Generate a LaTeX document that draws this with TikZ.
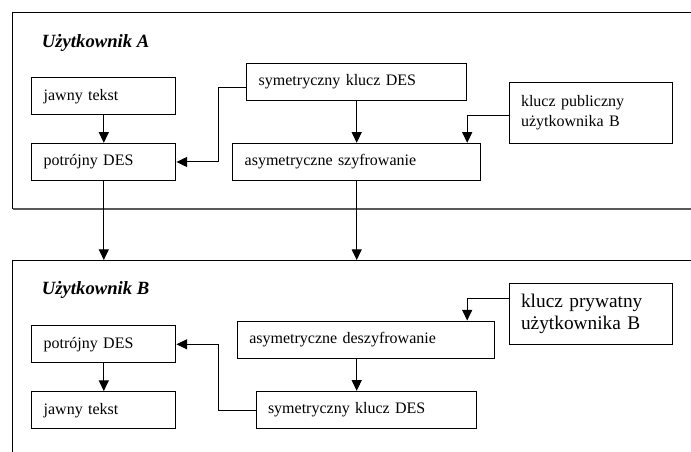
\documentclass[tikz,border=0pt]{standalone}
\usepackage{fontspec}
\setmainfont{Liberation Serif}
\usetikzlibrary{arrows.meta, positioning, calc}

\begin{document}
\begin{tikzpicture}[x=0.75pt, y=-0.75pt,
    blok/.style={draw, line width=0.75pt, inner xsep=9pt, inner ysep=0pt,
      align=left, minimum height=28pt, font=\fontsize{12}{14.5}\selectfont},
    pijl/.style={line width=0.75pt, -{Triangle[length=8pt, width=7.5pt]}},
    rama/.style={line width=0.75pt},
    tytul/.style={anchor=base west, inner sep=0pt,
      font=\fontsize{14}{16}\selectfont\bfseries\itshape}]
  \useasboundingbox (0,0) rectangle (691,452);
  \clip (0,0) rectangle (691,452);

  % Ramki uzytkownikow
  \draw[rama] (720,12.3) -- (12.7,12.3) -- (12.7,209);
  \draw[line width=1.5pt, black!65] (12.7,209) -- (720,209);
  \draw[rama] (720,260) -- (12.7,260) -- (12.7,480);

  \node[tytul] (tytA) at (41.7,47.7) {Użytkownik A};
  \node[tytul] (tytB) at (41.7,294.3) {Użytkownik B};

  % Uzytkownik A
  \node[blok, text width=90.2pt] (jawnyA) at (103.8,96.3) {jawny tekst};
  \node[blok, text width=90.2pt] (potA) at (103.8,162) {potrójny DES};
  \node[blok, text width=147pt] (symA) at (356.7,82) {symetryczny klucz DES};
  \node[blok, text width=168pt] (asymA) at (356.7,162) {asymetryczne szyfrowanie};
  \node[blok, text width=104.5pt, minimum height=45.75pt] (kpubA) at (590.7,112.8)
    {klucz publiczny\\użytkownika B};

  \draw[pijl] (jawnyA) -- (potA);
  \draw[pijl] ([yshift=-4pt]symA.west) -- ++(-27.7,0) |- (potA.east);
  \draw[pijl] (symA) -- (asymA);
  \draw[pijl] ([yshift=-1.7pt]kpubA.west) -| ([xshift=-10.5pt]asymA.north east);

  % Przejscie do B
  \coordinate (wejB1) at (103.8,260);
  \coordinate (wejB2) at (356.7,260);
  \draw[pijl] (potA) -- (wejB1);
  \draw[pijl] (asymA) -- (wejB2);

  % Uzytkownik B
  \node[blok, text width=90.2pt] (potB) at (103.8,344.3) {potrójny DES};
  \node[blok, text width=90.2pt] (jawnyB) at (103.8,410.2) {jawny tekst};
  \node[blok, text width=175pt] (asymdB) at (366,339.7) {asymetryczne deszyfrowanie};
  \node[blok, text width=147pt] (symB) at (366,410) {symetryczny klucz DES};
  \node[blok, text width=104.5pt, minimum height=45.5pt,
    font=\fontsize{14.5}{17}\selectfont] (kprivB) at (590.7,314)
    {klucz prywatny\\użytkownika B};

  \draw[pijl] ([yshift=12pt]kprivB.west) -| ([xshift=-21pt]asymdB.north east);
  \draw[pijl] (asymdB.south -| wejB2) -- (symB.north -| wejB2);
  \draw[pijl] (symB.west) -- ++(-37,0) |- (potB.east);
  \draw[pijl] (potB) -- (jawnyB);
\end{tikzpicture}
\end{document}
